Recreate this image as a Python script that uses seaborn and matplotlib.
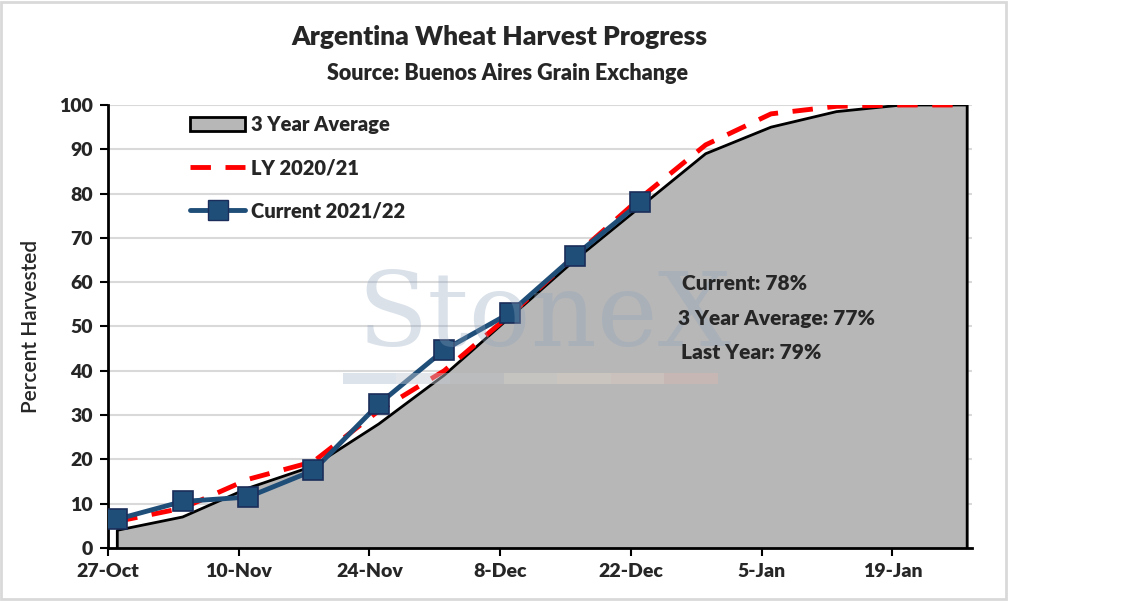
"""Argentina wheat harvest progress: current season vs last year vs 3-year average."""

import matplotlib
matplotlib.use("Agg")
import matplotlib.pyplot as plt
import matplotlib.dates as mdates
import matplotlib.patches as mpatches
import pandas as pd
import seaborn as sns

# weekly report dates
dates = pd.date_range("2021-10-28", periods=14, freq="7D")

avg_3yr = [4, 7, 13.5, 18.5, 28, 39, 52, 65, 77, 89, 95, 98.5, 100, 100]
ly_2020 = [6, 9, 15.5, 19.5, 31, 40, 52.5, 66, 79, 91, 98, 99.7, 100, 100]
current = [6.5, 10.5, 11.5, 17.5, 32.5, 44.7, 53, 66, 78]

tick_dates = pd.date_range("2021-10-27", periods=7, freq="14D")

df_avg = pd.DataFrame({"date": dates, "pct": avg_3yr})
df_ly = pd.DataFrame({"date": dates, "pct": ly_2020})
df_cur = pd.DataFrame({"date": dates[: len(current)], "pct": current})

sns.set_theme(style="white")
plt.rcParams["font.family"] = ["Lato", "DejaVu Sans"]

fig = plt.figure(figsize=(11.34, 6.01), dpi=100)
ax = fig.add_axes([0.0952, 0.0882, 0.7618, 0.7371])

# 3 year average as filled area with black outline
ax.fill_between(df_avg["date"], df_avg["pct"], 0, color="#b7b7b7", zorder=1)
poly_x = [df_avg["date"].iloc[0]] + list(df_avg["date"]) + [df_avg["date"].iloc[-1]]
poly_y = [0] + list(df_avg["pct"]) + [0]
ax.plot(poly_x, poly_y, color="black", lw=2, zorder=2)

sns.lineplot(data=df_ly, x="date", y="pct", ax=ax, color="#ff0000", lw=3.5,
             zorder=3)
ax.lines[-1].set_dashes([4.2, 3])
sns.lineplot(data=df_cur, x="date", y="pct", ax=ax, color="#1f4e79", lw=3.5,
             marker="s", markersize=15, markeredgecolor="#1b2d5a",
             markeredgewidth=1.2, zorder=4)

ax.set_ylim(0, 100)
ax.set_xlim(pd.Timestamp("2021-10-27"), pd.Timestamp("2022-01-27 12:00"))
ax.set_yticks(range(0, 101, 10))
ax.set_xticks(tick_dates)
ax.xaxis.set_major_formatter(mdates.DateFormatter("%-d-%b"))
ax.grid(axis="y", color="#d9d9d9", lw=1.5, zorder=0)
ax.set_axisbelow(True)
for side in ("top", "right"):
    ax.spines[side].set_visible(False)
for side in ("left", "bottom"):
    ax.spines[side].set_color("black")
    ax.spines[side].set_linewidth(2)
ax.tick_params(axis="both", direction="out", length=6, width=1.5, color="black",
               labelsize=14, pad=5, bottom=True, left=True)
for lbl in ax.get_xticklabels() + ax.get_yticklabels():
    lbl.set_fontweight("heavy")
ax.set_xlabel("")
ax.set_ylabel("Percent Harvested", fontsize=15, fontweight="semibold", labelpad=13)

# watermark
ax.text(0.505, 0.52, "StoneX", transform=ax.transAxes, ha="center", va="center",
        fontsize=74, family="DejaVu Serif", color="#8ea3bd", alpha=0.32, zorder=5)
bar_cols = ["#b4c2d3", "#c3cad3", "#bfc3c6", "#d9d6cc", "#e3d8c8", "#e3cfc6", "#d9b7b4"]
for i, c in enumerate(bar_cols):
    ax.add_patch(mpatches.Rectangle((0.272 + i * 0.062, 0.37), 0.062, 0.026,
                                    transform=ax.transAxes, color=c, alpha=0.45,
                                    lw=0, zorder=5))

# summary labels
summary = ["Current: 78%", "3 Year Average: 77%", "Last Year: 79%"]
for txt, xpos, ypos in zip(summary, (0.665, 0.660, 0.663), (0.596, 0.519, 0.442)):
    ax.text(xpos, ypos, txt, transform=ax.transAxes, fontsize=15,
            fontweight="heavy", va="center", zorder=6)

handles = [
    mpatches.Patch(facecolor="#b7b7b7", edgecolor="black", lw=2),
    plt.Line2D([], [], color="#ff0000", lw=3.5, dashes=[4.2, 3]),
    plt.Line2D([], [], color="#1f4e79", lw=3.5, marker="s", markersize=14,
               markeredgecolor="#1b2d5a"),
]
leg = ax.legend(handles, ["3 Year Average", "LY 2020/21", "Current 2021/22"],
                loc="upper left", bbox_to_anchor=(0.095, 0.977), frameon=False,
                borderpad=0, borderaxespad=0, fontsize=14.5, handlelength=2.75,
                labelspacing=1.2, handletextpad=0.3)
for t in leg.get_texts():
    t.set_fontweight("heavy")

fig.text(0.4405, 0.938, "Argentina Wheat Harvest Progress", ha="center", va="center",
         fontsize=19, fontweight="heavy")
fig.text(0.4475, 0.878, "Source: Buenos Aires Grain Exchange", ha="center",
         va="center", fontsize=15.5, fontweight="heavy")

fig.add_artist(mpatches.Rectangle((0.001, 0.004), 0.886, 0.993,
                                  transform=fig.transFigure, fill=False,
                                  edgecolor="#d9d9d9", lw=2))

fig.savefig("out.png", dpi=100)
plt.close(fig)
